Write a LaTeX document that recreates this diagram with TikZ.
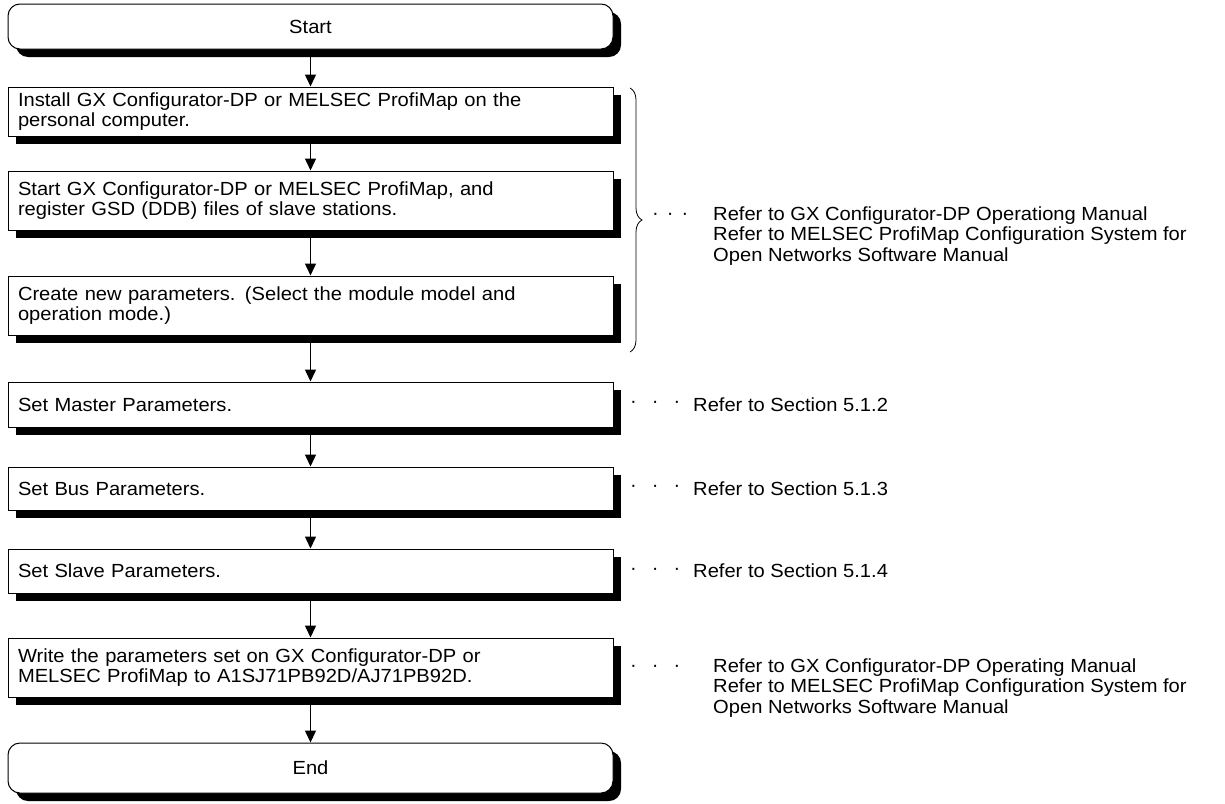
\documentclass[tikz,border=0pt]{standalone}
\usepackage{fontspec}
\setmainfont[FakeStretch=1.06]{Liberation Sans}
\usetikzlibrary{positioning,arrows.meta,shadows,decorations.pathreplacing}

\newcommand{\puntitos}[1]{·\hspace{#1}·\hspace{#1}·}

\begin{document}
\begin{tikzpicture}[x=1pt, y=-1pt, font=\fontsize{19}{20.5}\selectfont,
  paso/.style={draw, line width=1pt, fill=white, minimum width=605pt, text width=585pt,
    align=left, inner xsep=10pt, inner ysep=0pt,
    drop shadow={shadow xshift=8pt, shadow yshift=-8pt, fill=black, opacity=1}},
  borne/.style={paso, rounded corners=12pt, align=center},
  flecha/.style={-{Triangle[length=12pt, width=11pt]}, line width=1.5pt},
  nota/.style={anchor=west, align=left, inner sep=0pt},
  puntos/.style={anchor=west, inner sep=0pt}]
\useasboundingbox (0,0) rectangle (1225,803);

% pasos del diagrama
\node[borne, minimum height=45pt] (inicio) at (310.5,26.5) {Start};
\node[paso, minimum height=49pt] (instalar) at (310.5,111.5) {Install GX Configurator-DP or MELSEC ProfiMap on the\\personal computer.};
\node[paso, minimum height=59pt] (gsd) at (310.5,200.5) {Start GX Configurator-DP or MELSEC ProfiMap, and\\register GSD (DDB) files of slave stations.};
\node[paso, minimum height=59pt] (nuevos) at (310.5,305.5) {Create new parameters. (Select the module model and\\operation mode.)};
\node[paso, minimum height=45pt] (maestro) at (310.5,404.5) {Set Master Parameters.};
\node[paso, minimum height=43pt] (bus) at (310.5,488.5) {Set Bus Parameters.};
\node[paso, minimum height=44pt] (esclavo) at (310.5,571) {Set Slave Parameters.};
\node[paso, minimum height=59pt] (escribir) at (310.5,667.5) {Write the parameters set on GX Configurator-DP or\\MELSEC ProfiMap to A1SJ71PB92D/AJ71PB92D.};
\node[borne, minimum height=50pt] (fin) at (310.5,768) {End};

\draw[flecha] (inicio) -- (instalar);
\draw[flecha] (instalar) -- (gsd);
\draw[flecha] (gsd) -- (nuevos);
\draw[flecha] (nuevos) -- (maestro);
\draw[flecha] (maestro) -- (bus);
\draw[flecha] (bus) -- (esclavo);
\draw[flecha] (esclavo) -- (escribir);
\draw[flecha] (escribir) -- (fin);

% llave y referencias
\coordinate (llaveA) at (630,88);
\coordinate (llaveB) at (630,352);
\draw[line width=0.8pt, decorate, decoration={brace, amplitude=12pt}] (llaveA) -- (llaveB);

\node[puntos] (p1) at (652,216) {\puntitos{8pt}};
\node[nota] (ref1) at (713,236) {Refer to GX Configurator-DP Operationg Manual\\Refer to MELSEC ProfiMap Configuration System for\\Open Networks Software Manual};
\node[puntos] (p2) at (630,404.5) {\puntitos{15pt}};
\node[nota] (ref2) at (693,404.5) {Refer to Section 5.1.2};
\node[puntos] (p3) at (630,488.5) {\puntitos{15pt}};
\node[nota] (ref3) at (693,488.5) {Refer to Section 5.1.3};
\node[puntos] (p4) at (630,571) {\puntitos{15pt}};
\node[nota] (ref4) at (693,571) {Refer to Section 5.1.4};
\node[puntos] (p5) at (630,668) {\puntitos{15pt}};
\node[nota] (ref5) at (713,688) {Refer to GX Configurator-DP Operating Manual\\Refer to MELSEC ProfiMap Configuration System for\\Open Networks Software Manual};
\end{tikzpicture}
\end{document}
